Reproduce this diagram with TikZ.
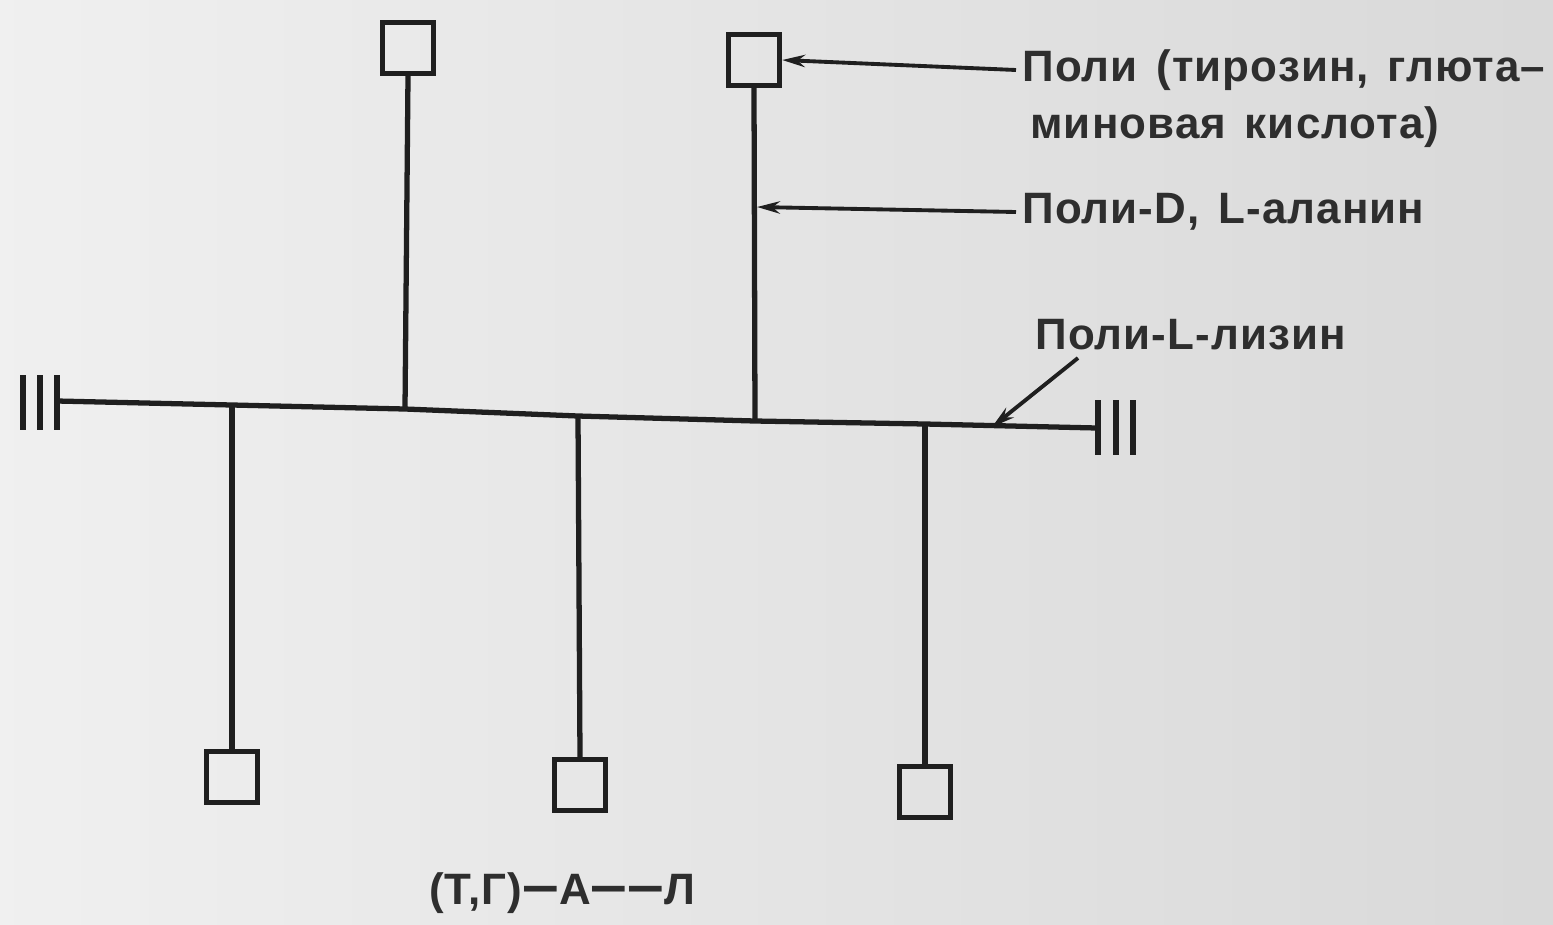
\documentclass[tikz,border=0pt]{standalone}
\usepackage{fontspec}
\usepackage{graphicx}
\setmainfont{Liberation Sans}[LetterSpace=2.5,WordSpace=1.4]
\usetikzlibrary{arrows.meta}
% a longer dash for the copolymer formula
\newcommand{\longdash}{\scalebox{1.15}[1.15]{\scalebox{1.0}[1]{–}}}
\begin{document}
\begin{tikzpicture}[x=0.02cm,y=-0.02cm,
  chain/.style={line width=3pt,black!88},
  unit/.style={draw=black!88,line width=3pt,minimum size=1.02cm,inner sep=0pt},
  pointer/.style={line width=2.2pt,black!88,-{Stealth[length=13pt,width=7pt]}},
  lbl/.style={font=\bfseries\fontsize{25}{30}\selectfont,text=black!82,anchor=west,inner sep=0pt},
  endbar/.style={line width=3pt,black!88}]
\shade[left color=black!6,right color=black!15] (0,0) rectangle (1553,924);
\useasboundingbox (0,0) rectangle (1553,924);
% backbone of poly-L-lysine
\coordinate (L) at (57,401);
\coordinate (R) at (1097,428);
\coordinate (b1) at (232,405);
\coordinate (b2) at (405,409);
\coordinate (b3) at (578,416);
\coordinate (b4) at (755,421);
\coordinate (b5) at (925,424);
\coordinate (lz) at (992,427);
\draw[chain] (L) -- (b1) -- (b2) -- (b3) -- (b4) -- (b5) -- (R);
% chain ends
\draw[endbar] (23,375) -- (23,430) (40,375) -- (40,430) (57,375) -- (57,430);
\draw[endbar] (1098,400) -- (1098,455) (1116,400) -- (1116,455) (1133,400) -- (1133,455);
% terminal units
\node[unit] (s1) at (408,48) {};
\node[unit] (s2) at (754,60) {};
\node[unit] (s3) at (232,777) {};
\node[unit] (s4) at (580,785) {};
\node[unit] (s5) at (925,792) {};
% side chains
\draw[chain] (s1.south) -- (b2);
\draw[chain] (s2.south) -- (b4);
\draw[chain] (b1) -- (s3.north);
\draw[chain] (b3) -- (s4.north);
\draw[chain] (b5) -- (s5.north);
% labels
\node[lbl] (t1) at (1022,70) {Поли (тирозин, глюта–};
\node[lbl] (t2) at (1030,127) {миновая кислота)};
\node[lbl] (t3) at (1022,212) {Поли-D, L-аланин};
\node[lbl] (t4) at (1035,335) {Поли-L-лизин};
\node[lbl,anchor=center] (t5) at (562,893) {(Т,Г)\scalebox{1.5}[1.3]{–}А\scalebox{1.5}[1.3]{–}\scalebox{1.5}[1.3]{–}Л};
\coordinate (ala) at (757,207);
\coordinate (lzs) at (1078,358);
\draw[pointer] (t1.west) ++(-6,0) -- (s2.east);
\draw[pointer] (t3.west) ++(-6,0) -- (ala);
\draw[pointer] (lzs) -- (lz);
\end{tikzpicture}
\end{document}
